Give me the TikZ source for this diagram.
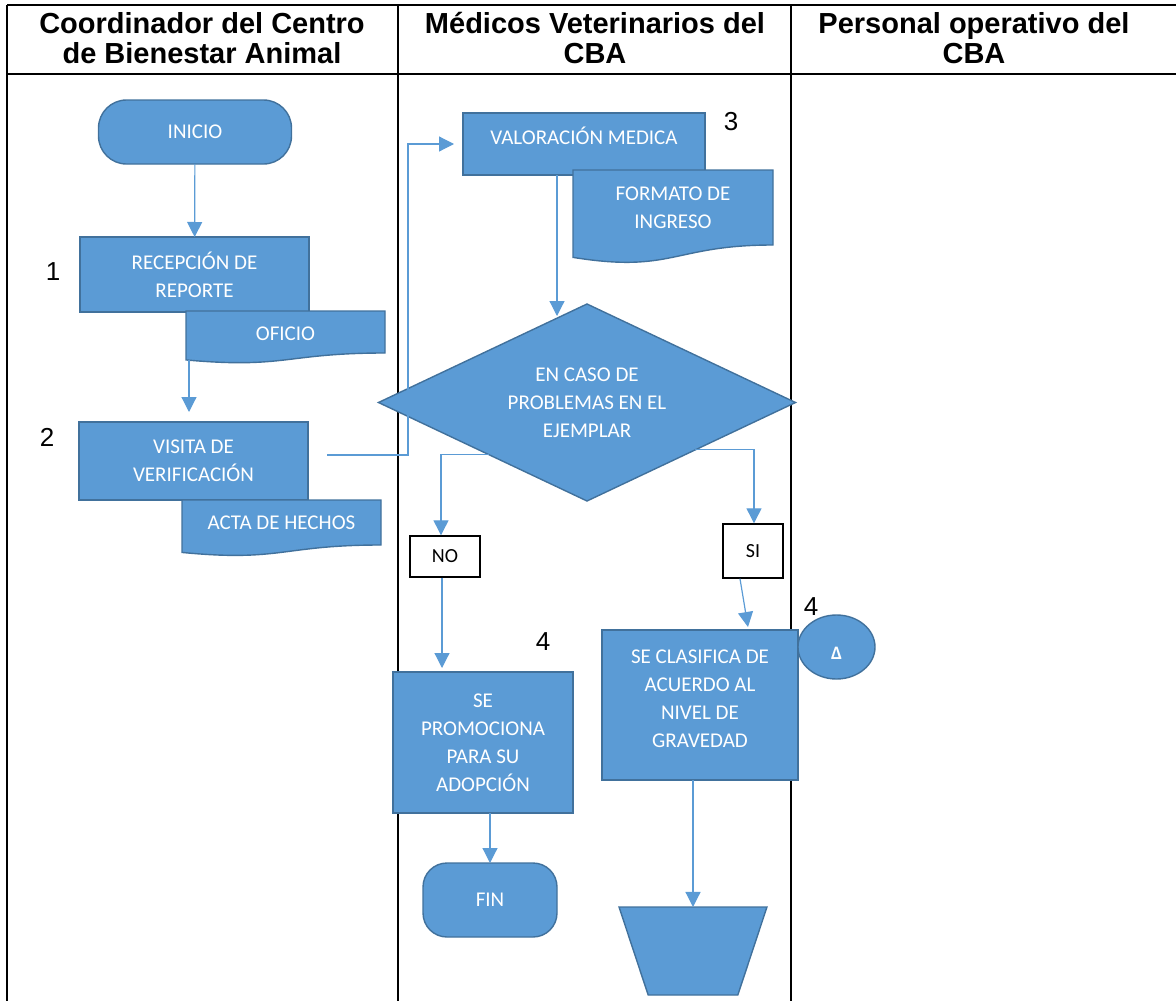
\documentclass[tikz,border=0pt]{standalone}
\usepackage{fontspec}
\setmainfont{Carlito}
\newfontfamily\headfont{Liberation Sans}
\usetikzlibrary{shapes.geometric,arrows.meta}

\definecolor{boxfill}{HTML}{5B9BD5}
\definecolor{boxedge}{HTML}{41719C}
\definecolor{linkblue}{HTML}{5B9BD5}

%% document symbol: rectangle with a wavy lower edge
\newdimen\dwvL \newdimen\dwvR \newdimen\dwvT \newdimen\dwvB
\newdimen\dwvM \newdimen\dwvH \newdimen\dwvC \newdimen\dwvE
\makeatletter
\pgfdeclareshape{docwave}{%
  \inheritsavedanchors[from=rectangle]%
  \inheritanchorborder[from=rectangle]%
  \inheritanchor[from=rectangle]{center}%
  \inheritanchor[from=rectangle]{north}%
  \inheritanchor[from=rectangle]{south}%
  \inheritanchor[from=rectangle]{east}%
  \inheritanchor[from=rectangle]{west}%
  \inheritanchor[from=rectangle]{north east}%
  \inheritanchor[from=rectangle]{north west}%
  \inheritanchor[from=rectangle]{south east}%
  \inheritanchor[from=rectangle]{south west}%
  \inheritanchor[from=rectangle]{base}%
  \inheritanchor[from=rectangle]{mid}%
  \backgroundpath{%
    \southwest \dwvL=\pgf@x \dwvB=\pgf@y
    \northeast \dwvR=\pgf@x \dwvT=\pgf@y
    \dwvH=\dwvT \advance\dwvH by -\dwvB
    \dwvM=.5\dwvL \advance\dwvM by .5\dwvR
    \dwvC=\dwvB \advance\dwvC by -.38\dwvH
    \dwvE=\dwvB \advance\dwvE by -.165\dwvH
    \pgfpathmoveto{\pgfqpoint{\dwvL}{\dwvT}}%
    \pgfpathlineto{\pgfqpoint{\dwvR}{\dwvT}}%
    \pgfpathlineto{\pgfqpoint{\dwvR}{\dwvB}}%
    \pgfpathcurveto{\pgfqpoint{\dwvM}{\dwvB}}{\pgfqpoint{\dwvM}{\dwvC}}{\pgfqpoint{\dwvL}{\dwvE}}%
    \pgfpathclose
  }%
}
\makeatother

\begin{document}
\begin{tikzpicture}[x=1pt,y=-1pt,
    proc/.style={rectangle,fill=boxfill,draw=boxedge,line width=1.4pt,text=white,
      align=center,inner sep=0pt,outer sep=0pt,font=\fontsize{21}{28}\selectfont},
    doc/.style={proc,shape=docwave},
    term/.style={proc,rounded corners=#1},
    choice/.style={proc,diamond,aspect=2.1},
    answer/.style={rectangle,draw=black,line width=1.4pt,fill=white,inner sep=0pt,
      font=\fontsize{20}{24}\selectfont},
    stepno/.style={font=\headfont\fontsize{26}{26}\selectfont,inner sep=0pt},
    lane/.style={font=\headfont\bfseries\fontsize{29}{30}\selectfont,align=center,inner sep=0pt},
    flow/.style={draw=linkblue,line width=1.2pt,-{Triangle[width=15pt,length=15pt]}}]
  \useasboundingbox (0,0) rectangle (1176,1001);

  %% swimlane grid
  \draw[line width=1.8pt] (7,5) -- (1176,5) (7,74) -- (1176,74);
  \draw[line width=1.8pt] (7,5) -- (7,1001) (398,5) -- (398,1001) (791,5) -- (791,1001);

  \node[lane] (lane1) at (202,38) {Coordinador del Centro\\de Bienestar Animal};
  \node[lane] (lane2) at (595,38) {Médicos Veterinarios del\\CBA};
  \node[lane] (lane3) at (974,38) {Personal operativo del\\CBA};

  %% coordinator
  \node[term=28pt,minimum width=193pt,minimum height=64pt] (inicio) at (195,132) {INICIO};
  \node[proc,minimum width=229pt,minimum height=75pt] (recep) at (194.5,274.5) {RECEPCIÓN DE\\REPORTE};
  \node[doc,minimum width=199pt,minimum height=42pt,text height=18pt] (oficio) at (285.5,332) {OFICIO};
  \node[proc,minimum width=229pt,minimum height=78pt] (visita) at (193.5,461) {VISITA DE\\VERIFICACIÓN};
  \node[doc,minimum width=199pt,minimum height=45pt] (acta) at (281.5,522.5) {ACTA DE HECHOS};

  %% veterinarians
  \node[proc,minimum width=242pt,minimum height=62pt,text depth=16pt] (valor) at (584,144) {VALORACIÓN MEDICA};
  \node[doc,minimum width=200pt,minimum height=75pt] (formato) at (673,207.5) {FORMATO DE\\INGRESO};
  \node[choice,minimum width=417pt,minimum height=197pt] (caso) at (587,402.5) {EN CASO DE\\PROBLEMAS EN EL\\EJEMPLAR};
  \node[answer,minimum width=70pt,minimum height=41pt] (no) at (445,556.5) {NO};
  \node[answer,minimum width=60pt,minimum height=54pt] (si) at (753,551) {SI};
  \node[proc,minimum width=180pt,minimum height=141pt] (promo) at (483,742.5) {SE\\PROMOCIONA\\PARA SU\\ADOPCIÓN};
  \node[proc,minimum width=196pt,minimum height=150pt,text depth=12pt] (clasif) at (700,705) {SE CLASIFICA DE\\ACUERDO AL\\NIVEL DE\\GRAVEDAD};
  \node[term=24pt,minimum width=134pt,minimum height=74pt] (fin) at (490,900) {FIN};
  \node[proc,trapezium,inner sep=4pt,trapezium left angle=72,trapezium right angle=72,shape border rotate=180,
    trapezium stretches=true,minimum width=148pt,minimum height=88pt] (grado) at (693,951) {};
  \node[proc,ellipse,minimum width=77pt,minimum height=64pt,text height=24pt,
    font=\bfseries\fontsize{19}{19}\selectfont] (delta) at (836.5,647) {Δ};

  %% step numbers
  \node[stepno] (n1) at (53,272) {1};
  \node[stepno] (n2) at (47,437) {2};
  \node[stepno] (n3) at (731,122) {3};
  \node[stepno] (n4a) at (543,642) {4};
  \node[stepno] (n4b) at (811,607) {4};

  %% connectors
  \draw[flow] (inicio) -- (recep);
  \draw[flow] ([xshift=3pt,yshift=-7pt]oficio.south west) -- ([xshift=110pt,yshift=10pt]visita.north west);
  \draw[flow] ([xshift=19pt,yshift=6pt]visita.east) -| ([xshift=-55pt]valor.west) -- ([xshift=-9pt]valor.west);
  \draw[flow] ([xshift=-27pt]valor.south) -- ([xshift=-30pt,yshift=-12pt]caso.north);
  \draw[flow] ([xshift=6pt,yshift=-3pt]caso.south west) -| ([xshift=-4pt]no.north);
  \draw[flow] ([xshift=4pt,yshift=2pt]caso.south east) -| ([xshift=1pt]si.north);
  \draw[flow] ([xshift=-3pt]no.south) -- ([xshift=-41pt,yshift=4pt]promo.north);
  \draw[flow] ([xshift=-13pt]si.south) -- ([xshift=48pt,yshift=3pt]clasif.north);
  \draw[flow] (promo.south -| fin.north) -- (fin.north);
  \draw[flow] (clasif.south -| grado.center) -- (grado);
\end{tikzpicture}
\end{document}
